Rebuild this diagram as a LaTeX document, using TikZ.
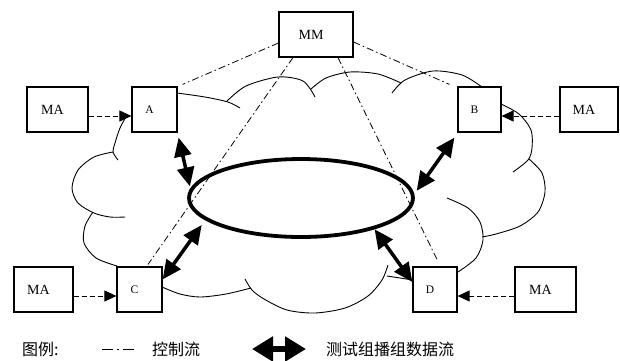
\documentclass[tikz,border=0pt]{standalone}
\usepackage{fontspec}
\setmainfont{Liberation Serif}
\newfontfamily\cjk{Noto Sans CJK SC}
\usetikzlibrary{arrows.meta,shapes.geometric}
\tikzset{
  box/.style={draw,line width=1.2pt,fill=white,minimum height=45pt,inner sep=0pt,
    execute at begin node={\hspace*{-10pt}}},
  mabox/.style={box,font=\fontsize{14}{14}\selectfont},
  letterbox/.style={box,minimum width=45pt,font=\fontsize{11.5}{11.5}\selectfont},
  cloudline/.style={line width=0.9pt},
  ctrl/.style={line width=0.8pt,dash pattern=on 7pt off 3pt on 1.5pt off 3pt},
  feed/.style={line width=1pt,dash pattern=on 5pt off 3pt,-{Triangle[length=12pt,width=11pt]}},
  data/.style={line width=3.5pt,{Triangle[length=19pt,width=17pt]}-{Triangle[length=19pt,width=17pt]}},
  ringstyle/.style={ellipse,draw,line width=3.8pt,minimum width=224pt,minimum height=78pt,inner sep=0pt},
  legendtext/.style={anchor=west,inner sep=0pt,font=\cjk\fontsize{16}{16}\selectfont}
}
\begin{document}
\begin{tikzpicture}[x=1pt,y=-1pt]
\useasboundingbox (0,0) rectangle (620,360);
% cloud
\draw[cloudline] plot[smooth] coordinates {(177,93) (205,97) (228,102) (240,108)};
\draw[cloudline] plot[smooth] coordinates {(227,101) (246,86) (278,77) (303,81) (315,97)};
\draw[cloudline] plot[smooth] coordinates {(311,89) (326,78) (350,72) (378,74) (401,83)};
\draw[cloudline] plot[smooth] coordinates {(392,93) (405,80) (433,71) (462,75) (482,87)};
\draw[cloudline] plot[smooth] coordinates {(501,104) (519,114) (531,130) (532,148) (528,160) (513,172)};
\draw[cloudline] plot[smooth] coordinates {(529,159) (542,173) (545,192) (538,212) (520,226) (496,234) (482,237)};
\draw[cloudline] plot[smooth] coordinates {(447,198) (468,208) (480,222) (483,240) (476,258) (458,272)};
\draw[cloudline] plot[smooth] coordinates {(387,276) (400,278) (413,280)};
\draw[cloudline] plot[smooth] coordinates {(388,265) (382,280) (368,296) (345,308) (315,313) (287,310) (264,299) (252,290) (245,279)};
\draw[cloudline] plot[smooth] coordinates {(162,287) (180,294) (200,297) (226,294) (251,288)};
\draw[cloudline] plot[smooth] coordinates {(93,212) (85,226) (84,243) (96,258) (117,266)};
\draw[cloudline] plot[smooth] coordinates {(113,152) (94,157) (78,170) (72,188) (78,203) (94,213) (110,217) (125,217)};
\draw[cloudline] plot[smooth] coordinates {(127,115) (120,128) (115,143) (113,152) (118,160)};
% nodes
\node[mabox,minimum width=74pt] (mm) at (316,34.5) {MM};
\node[letterbox] (a) at (154.5,109.5) {A};
\node[letterbox,minimum width=43pt] (b) at (479.5,109.5) {B};
\node[letterbox] (c) at (139.5,289.5) {C};
\node[letterbox,minimum width=44pt] (d) at (435,289.5) {D};
\node[mabox,minimum width=61pt] (ma1) at (57.5,109.5) {MA};
\node[mabox,minimum width=58pt] (ma2) at (589,109.5) {MA};
\node[mabox,minimum width=59pt] (ma3) at (43.5,289.5) {MA};
\node[mabox,minimum width=61pt] (ma4) at (545.5,289.5) {MA};
\node[ringstyle] (ring) at (301,198) {};
% control lines
\draw[ctrl] ([yshift=-8.5pt]mm.west) -- ([xshift=5pt,yshift=2pt]a.north east);
\draw[ctrl] ([yshift=-7.5pt]mm.east) -- ([xshift=-8pt,yshift=2pt]b.north west);
\draw[ctrl] ([xshift=-23pt]mm.south) -- ([xshift=8.5pt,yshift=2pt]c.north);
\draw[ctrl] ([xshift=22pt]mm.south) -- ([xshift=3pt,yshift=5pt]d.north);
% feeds
\draw[feed] ([yshift=-6.5pt]ma1.east) -- ([yshift=-6.5pt]a.west);
\draw[feed] ([yshift=-6.5pt]ma2.west) -- ([yshift=-6.5pt]b.east);
\draw[feed] ([yshift=-6.5pt]ma3.east) -- ([yshift=-6.5pt]c.west);
\draw[feed] ([yshift=-6.5pt]ma4.west) -- ([yshift=-6.5pt]d.east);
% data arrows
\draw[data,shorten >=2pt] ([xshift=1pt,yshift=-5pt]a.south east) -- (ring.175);
\draw[data,shorten >=6pt] ([yshift=-13pt]c.north east) -- (ring.193.5);
\draw[data,shorten >=4pt] ([xshift=-3pt,yshift=-5pt]b.south west) -- (ring.2);
\draw[data] (ring.337) -- ([yshift=7.5pt]d.west);
% legend
\node[legendtext] (lg) at (22,349) {图例:};
\coordinate (l1) at (102,349);
\coordinate (l2) at (135,349);
\draw[line width=1pt,dash pattern=on 11pt off 4pt on 2pt off 4pt] (l1) -- (l2);
\node[legendtext] (lc) at (152,349) {控制流};
\coordinate (la1) at (252,349);
\coordinate (la2) at (306,349);
\draw[line width=6pt,{Triangle[length=21pt,width=24pt]}-{Triangle[length=21pt,width=24pt]}] (la1) -- (la2);
\node[legendtext] (ld) at (326,349) {测试组播组数据流};
\end{tikzpicture}
\end{document}
